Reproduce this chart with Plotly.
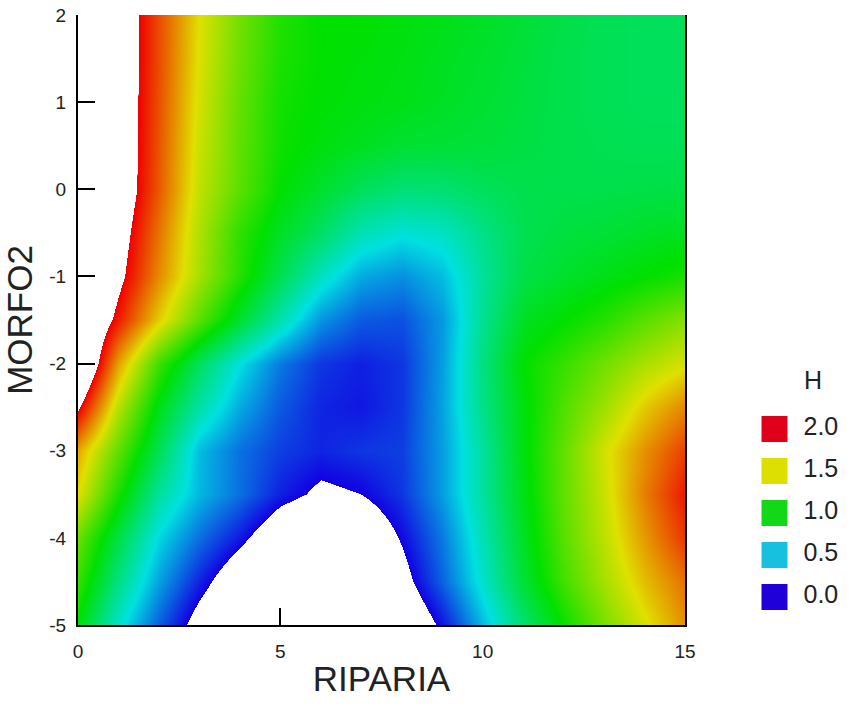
import plotly.graph_objects as go

# ---------------- data ----------------
riparia = [0, 1, 2, 3, 4, 5, 6, 7, 8, 9, 10, 11, 12, 13, 14, 15]
morfo2 = [-5.0, -4.5, -4.0, -3.5, -3.0, -2.5, -2.0, -1.5, -1.0, -0.5, 0.0, 0.5, 1.0, 1.5, 2.0]

# H values, one row per MORFO2 level (ascending), columns follow RIPARIA
h_m50 = [0.98, 0.55, 0.21, -0.10, -0.30, -0.50, -0.60, -0.45, -0.24, 0.04, 0.42, 0.75, 1.02, 1.27, 1.48, 1.68]
h_m45 = [1.12, 0.71, 0.36, 0.08, -0.18, -0.38, -0.45, -0.30, -0.08, 0.22, 0.55, 0.88, 1.15, 1.37, 1.58, 1.75]
h_m40 = [1.23, 0.85, 0.48, 0.25, 0.05, -0.18, -0.30, -0.20, 0.02, 0.27, 0.60, 0.92, 1.20, 1.42, 1.66, 1.88]
h_m35 = [1.50, 1.05, 0.65, 0.41, 0.25, 0.07, -0.04, 0.00, 0.12, 0.35, 0.65, 0.95, 1.22, 1.45, 1.72, 1.95]
h_m30 = [1.62, 1.21, 0.81, 0.42, 0.25, 0.14, 0.08, 0.12, 0.14, 0.35, 0.65, 0.97, 1.22, 1.47, 1.68, 1.86]
h_m25 = [2.03, 1.41, 0.95, 0.63, 0.38, 0.20, 0.08, 0.05, 0.12, 0.36, 0.70, 0.97, 1.18, 1.35, 1.55, 1.70]
h_m20 = [2.36, 1.64, 1.13, 0.79, 0.50, 0.27, 0.12, 0.07, 0.12, 0.35, 0.72, 1.00, 1.12, 1.25, 1.38, 1.48]
h_m15 = [2.34, 1.94, 1.54, 1.20, 0.89, 0.61, 0.33, 0.20, 0.18, 0.34, 0.68, 0.92, 1.00, 1.08, 1.20, 1.30]
h_m10 = [2.43, 2.06, 1.69, 1.37, 1.08, 0.82, 0.57, 0.38, 0.32, 0.42, 0.66, 0.84, 0.90, 0.95, 1.00, 1.05]
h_m05 = [2.48, 2.11, 1.74, 1.39, 1.10, 0.92, 0.78, 0.60, 0.52, 0.56, 0.70, 0.82, 0.86, 0.88, 0.91, 0.93]
h_p00 = [2.50, 2.17, 1.80, 1.43, 1.20, 1.00, 0.90, 0.80, 0.74, 0.75, 0.80, 0.83, 0.83, 0.83, 0.84, 0.85]
h_p05 = [2.50, 2.17, 1.81, 1.45, 1.21, 1.03, 0.97, 0.93, 0.89, 0.88, 0.87, 0.85, 0.83, 0.82, 0.81, 0.81]
h_p10 = [2.50, 2.17, 1.82, 1.47, 1.22, 1.04, 0.99, 0.97, 0.95, 0.92, 0.89, 0.86, 0.83, 0.81, 0.80, 0.80]
h_p15 = [2.50, 2.17, 1.83, 1.49, 1.24, 1.06, 1.00, 0.98, 0.96, 0.93, 0.90, 0.87, 0.83, 0.81, 0.80, 0.80]
h_p20 = [2.50, 2.17, 1.83, 1.50, 1.25, 1.07, 1.00, 1.00, 0.97, 0.95, 0.92, 0.88, 0.84, 0.81, 0.80, 0.80]

h_grid = [h_m50, h_m45, h_m40, h_m35, h_m30, h_m25, h_m20, h_m15,
          h_m10, h_m05, h_p00, h_p05, h_p10, h_p15, h_p20]

legend_levels = [2.0, 1.5, 1.0, 0.5, 0.0]
legend_colors = ["#e0001c", "#dce000", "#12d818", "#18c0e0", "#2000d8"]

x_ticks = [0, 5, 10, 15]
y_ticks = [-5, -4, -3, -2, -1, 0, 1, 2]

# ---------------- layout constants ----------------
W, H = 858, 706
ML, MR, MT, MB = 78, 8, 15, 81
PW = W - ML - MR
PH = H - MT - MB
main_right = (685 - ML) / PW

FONT = "Arial, Liberation Sans, sans-serif"
TXT = "#222222"
clear = "rgba(255,255,255,0)"
# value range of the colour field is -1..3; only 0..2 is painted
colorscale = [
    [0.0, clear], [0.2499, clear],
    [0.25, "#1200e2"],
    [0.375, "#00e0e0"],
    [0.5, "#00e000"],
    [0.625, "#e0e000"],
    [0.75, "#f00000"],
    [0.7501, clear], [1.0, clear],
]

fig = go.Figure()

fig.add_trace(go.Heatmap(
    x=riparia, y=morfo2, z=h_grid,
    zmin=-1, zmax=3, zsmooth="best",
    colorscale=colorscale, showscale=False,
    hoverinfo="skip", xaxis="x", yaxis="y",
))

# legend drawn as its own little scatter on hidden axes
fig.add_trace(go.Scatter(
    x=[0] * len(legend_levels), y=legend_levels,
    mode="markers",
    marker=dict(symbol="square", size=26, color=legend_colors, line=dict(width=0)),
    xaxis="x2", yaxis="y2", hoverinfo="skip", showlegend=False, cliponaxis=False,
))
fig.add_trace(go.Scatter(
    x=[1.45] * len(legend_levels), y=legend_levels,
    mode="text",
    text=[f"{v:.1f}" for v in legend_levels],
    textposition="middle right",
    textfont=dict(family=FONT, size=25, color=TXT),
    xaxis="x2", yaxis="y2", hoverinfo="skip", showlegend=False, cliponaxis=False,
))

lx_c = 774.5
y_lo = (MT + PH - (597 + 0.3 * 84)) / PH
y_hi = (MT + PH - (429 - 0.3 * 84)) / PH

fig.update_layout(
    width=W, height=H,
    margin=dict(l=ML, r=MR, t=MT, b=MB, pad=0),
    paper_bgcolor="white", plot_bgcolor="white",
    showlegend=False,
    font=dict(family=FONT, color=TXT),
    xaxis=dict(
        domain=[0, main_right], range=[0, 15],
        tickmode="array", tickvals=x_ticks, ticktext=[str(v) for v in x_ticks],
        ticks="inside", ticklen=17, tickwidth=2, tickcolor="black",
        showline=True, linewidth=2, linecolor="black", mirror=False,
        showgrid=False, zeroline=False, layer="below traces",
        tickfont=dict(family=FONT, size=19, color=TXT),
        ticklabelstandoff=8,
        title=dict(text="RIPARIA", font=dict(family=FONT, size=35, color=TXT), standoff=6),
        automargin=False, fixedrange=True,
    ),
    yaxis=dict(
        domain=[0, 1], range=[-5, 2],
        tickmode="array", tickvals=y_ticks, ticktext=[str(v) for v in y_ticks],
        ticks="inside", ticklen=17, tickwidth=2, tickcolor="black",
        showline=True, linewidth=2, linecolor="black", mirror=True,
        showgrid=False, zeroline=False, layer="below traces",
        tickfont=dict(family=FONT, size=19, color=TXT),
        ticklabelstandoff=6,
        title=dict(text="MORFO2", font=dict(family=FONT, size=35, color=TXT), standoff=10),
        automargin=False, fixedrange=True,
    ),
    xaxis2=dict(domain=[(lx_c - 20 - ML) / PW, (lx_c + 70 - ML) / PW], range=[-1, 3.5],
                visible=False, anchor="y2", fixedrange=True),
    yaxis2=dict(domain=[y_lo, y_hi], range=[-0.3, 2.3], visible=False,
                anchor="x2", fixedrange=True),
    annotations=[dict(text="H", xref="paper", yref="paper",
                      x=(813 - ML) / PW, y=(MT + PH - 380) / PH,
                      xanchor="center", yanchor="middle", showarrow=False,
                      font=dict(family=FONT, size=25, color=TXT))],
)

fig.write_html("out.html")
